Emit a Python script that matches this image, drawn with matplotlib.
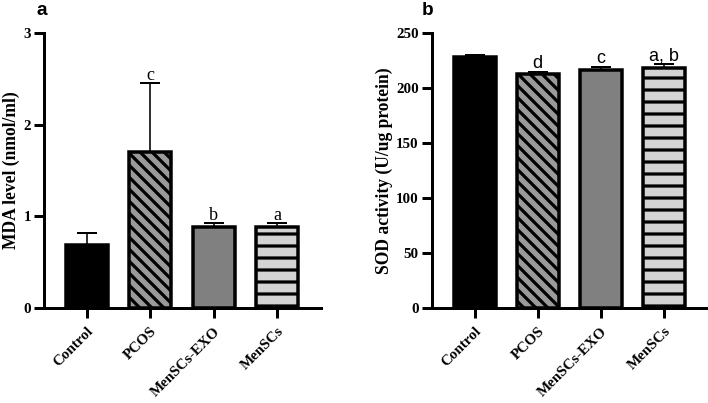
import numpy as np
import matplotlib
matplotlib.use("Agg")
import matplotlib.pyplot as plt

groups = ["Control", "PCOS", "MenSCs-EXO", "MenSCs"]

mda_mean = [0.69, 1.70, 0.88, 0.88]
mda_err = [0.13, 0.75, 0.05, 0.05]
mda_sig = ["", "c", "b", "a"]

sod_mean = [228, 213, 216.5, 218.5]
sod_err = [2.0, 1.5, 3.0, 3.3]
sod_sig = ["", "d", "c", "a, b"]

fills = ["black", "#9a9a9a", "#808080", "#d3d3d3"]
hatches = [None, "\\\\", None, "-"]

# at 72 dpi one point is one pixel
DPI = 72
plt.rcParams["hatch.linewidth"] = 3.2
plt.rcParams["axes.linewidth"] = 3

fig = plt.figure(figsize=(708 / DPI, 403 / DPI), dpi=DPI)
ax1 = fig.add_axes([0.062, 0.236, 0.391, 0.682])
ax2 = fig.add_axes([0.610, 0.236, 0.389, 0.682])

serif_bold = dict(family="Liberation Serif", weight="bold")


def panel(ax, means, errs, sig, ylim, yticks, ylabel, sig_font, sig_size, sig_off):
    x = np.arange(len(groups))
    bars = ax.bar(x, means, width=0.66, color=fills, edgecolor="black",
                  linewidth=3.5, zorder=2)
    for b, h in zip(bars, hatches):
        if h:
            b.set_hatch(h)
    ax.errorbar(x, means, yerr=[np.zeros(len(errs)), errs], fmt="none",
                ecolor="black", elinewidth=1.6, capsize=10, capthick=2, zorder=1)
    for xi, m, e, s in zip(x, means, errs, sig):
        if s:
            ax.annotate(s, (xi, m + e), xytext=(0, sig_off), textcoords="offset points",
                        ha="center", va="bottom", fontsize=sig_size, family=sig_font)
    ax.set_xlim(-0.68, 3.69)
    ax.set_ylim(*ylim)
    ax.set_yticks(yticks)
    ax.set_xticks(x)
    ax.set_xticklabels(groups, rotation=45, ha="right", rotation_mode="anchor",
                       fontsize=15, **serif_bold)
    for t in ax.get_yticklabels():
        t.set_fontsize(15)
        t.set_family("Liberation Serif")
        t.set_weight("bold")
    ax.tick_params(length=10, width=3, pad=3)
    ax.tick_params(axis="x", pad=7)
    ax.spines["top"].set_visible(False)
    ax.spines["right"].set_visible(False)
    ax.set_ylabel(ylabel, fontsize=17.5, labelpad=3, **serif_bold)


panel(ax1, mda_mean, mda_err, mda_sig, (0, 3), [0, 1, 2, 3],
      "MDA level (nmol/ml)", "Liberation Serif", 18, -1)
panel(ax2, sod_mean, sod_err, sod_sig, (0, 250), [0, 50, 100, 150, 200, 250],
      "SOD activity (U/ug protein)", "Liberation Sans", 18, 0)

fig.text(0.052, 0.963, "a", fontsize=19, weight="bold", family="Liberation Sans", va="baseline")
fig.text(0.596, 0.963, "b", fontsize=19, weight="bold", family="Liberation Sans", va="baseline")

fig.savefig("out.png", dpi=DPI)
